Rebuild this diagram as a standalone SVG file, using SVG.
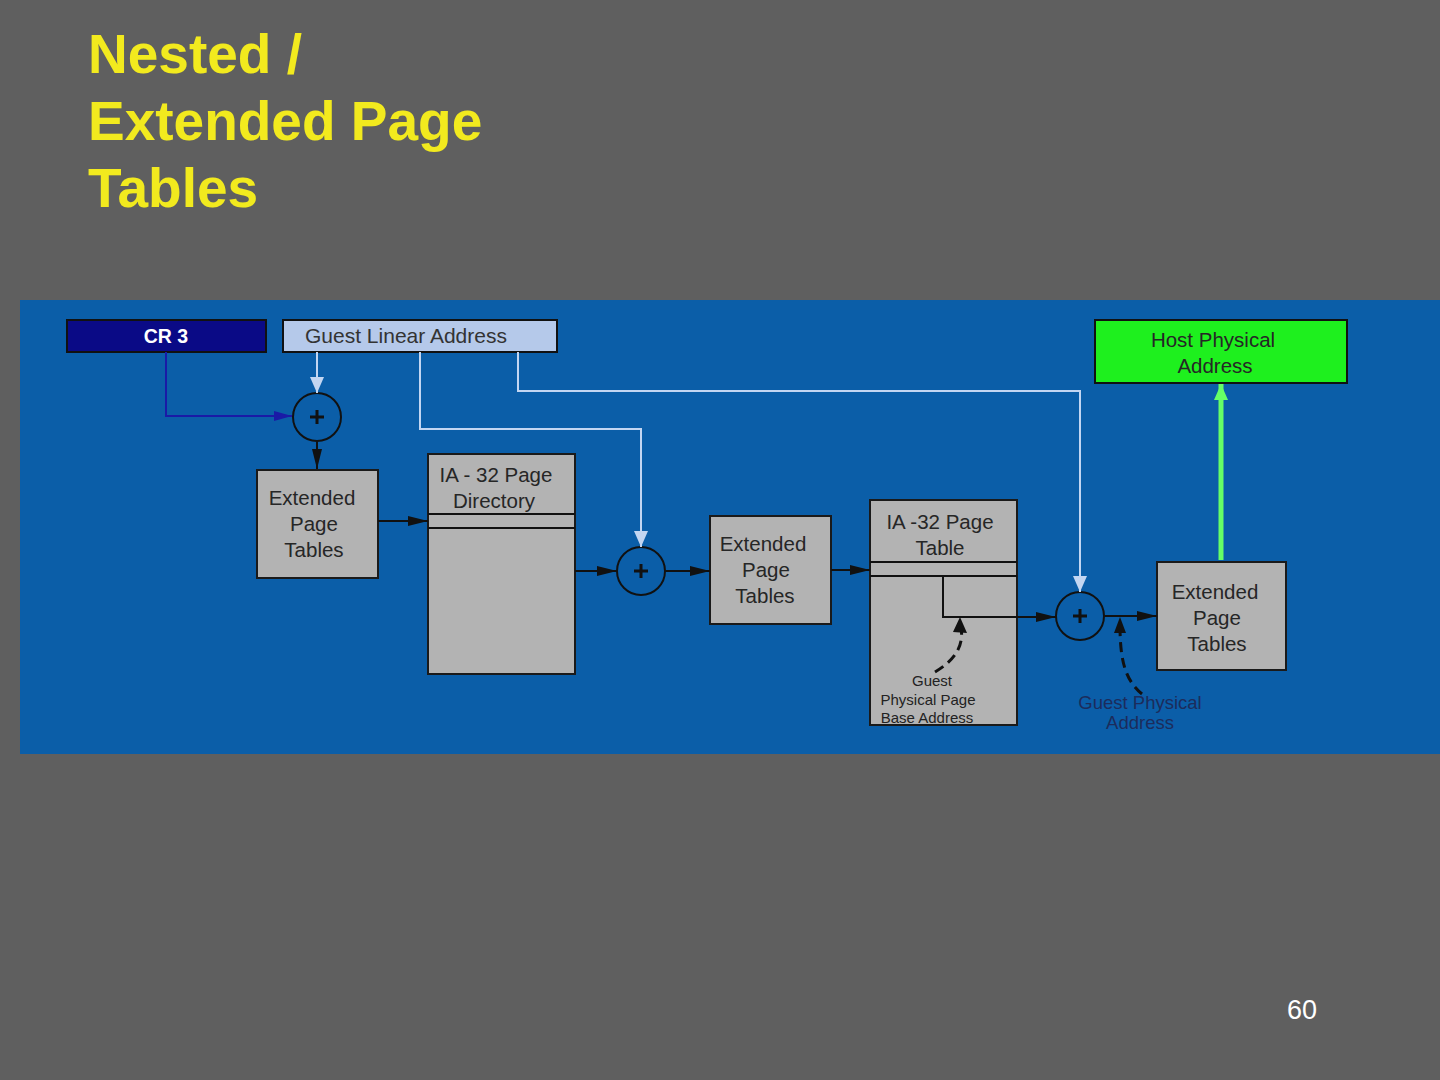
<svg xmlns="http://www.w3.org/2000/svg" width="1440" height="1080" viewBox="0 0 1440 1080">
<defs>
<style>
.t{font-family:"Liberation Sans",Arial,sans-serif}
.title{font-size:55px;font-weight:bold;fill:#f2ea1e}
.box{fill:#b3b3b3;stroke:#1a1a1a;stroke-width:2}
.bt{font-size:20.5px;fill:#262626;text-anchor:middle}
.circ{fill:#0b5ea8;stroke:#111;stroke-width:2}
.blk{stroke:#111;stroke-width:2;fill:none}
.lb{stroke:#c3d6f2;stroke-width:2;fill:none}
.sm{font-size:15px;fill:#222;text-anchor:middle}
</style>
<marker id="ab" markerWidth="20" markerHeight="12" refX="20" refY="6" markerUnits="userSpaceOnUse" orient="auto"><path d="M0,1L20,6L0,11z" fill="#111"/></marker>
<marker id="al" markerWidth="16" markerHeight="16" refX="16" refY="8" markerUnits="userSpaceOnUse" orient="auto"><path d="M0,1L16,8L0,15z" fill="#c3d6f2"/></marker>
<marker id="an" markerWidth="18" markerHeight="12" refX="18" refY="6" markerUnits="userSpaceOnUse" orient="auto"><path d="M0,1L18,6L0,11z" fill="#1a1aa6"/></marker>
<marker id="ag" markerWidth="16" markerHeight="16" refX="16" refY="8" markerUnits="userSpaceOnUse" orient="auto"><path d="M0,1L16,8L0,15z" fill="#66ff66"/></marker>
</defs>
<rect width="1440" height="1080" fill="#5f5f5f"/>
<g class="t title">
<text x="88" y="73">Nested /</text>
<text x="88" y="140">Extended Page</text>
<text x="88" y="207">Tables</text>
</g>
<text class="t" x="1287" y="1019" font-size="27" fill="#ffffff">60</text>
<rect x="20" y="300" width="1420" height="454" fill="#0b5ea8"/>

<g id="cr3">
<rect x="67" y="320" width="199" height="32" fill="#0a0a86" stroke="#111" stroke-width="2"/>
<text class="t" x="166" y="343" font-size="19.5" font-weight="bold" fill="#ffffff" text-anchor="middle">CR 3</text>
</g>
<g id="gla">
<rect x="283" y="320" width="274" height="32" fill="#b5c9ea" stroke="#111" stroke-width="2"/>
<text class="t" x="305" y="343" font-size="21" fill="#333">Guest Linear Address</text>
</g>
<g id="hpa">
<rect x="1095" y="320" width="252" height="63" fill="#1ef01e" stroke="#111" stroke-width="2"/>
<text class="t bt" x="1213" y="347" font-size="21">Host Physical</text>
<text class="t bt" x="1215" y="373" font-size="21">Address</text>
</g>
<g id="plus1">
<circle class="circ" cx="317" cy="417" r="24"/>
<path d="M310,417H324M317,410V424" stroke="#111" stroke-width="3"/>
</g>
<g id="ept1">
<rect class="box" x="257" y="470" width="121" height="108"/>
<text class="t bt" x="312" y="505">Extended</text>
<text class="t bt" x="314" y="531">Page</text>
<text class="t bt" x="314" y="557">Tables</text>
</g>
<g id="pd">
<rect class="box" x="428" y="454" width="147" height="220"/>
<path class="blk" d="M428,514H575M428,528H575"/>
<text class="t bt" x="496" y="482">IA - 32  Page</text>
<text class="t bt" x="494" y="508">Directory</text>
</g>
<g id="plus2">
<circle class="circ" cx="641" cy="571" r="24"/>
<path d="M634,571H648M641,564V578" stroke="#111" stroke-width="3"/>
</g>
<g id="ept2">
<rect class="box" x="710" y="516" width="121" height="108"/>
<text class="t bt" x="763" y="551">Extended</text>
<text class="t bt" x="766" y="577">Page</text>
<text class="t bt" x="765" y="603">Tables</text>
</g>
<g id="pt">
<rect class="box" x="870" y="500" width="147" height="225"/>
<path class="blk" d="M870,562H1017M870,576H1017"/>
<text class="t bt" x="940" y="529">IA -32  Page</text>
<text class="t bt" x="940" y="555">Table</text>
<text class="t sm" x="932" y="686">Guest</text>
<text class="t sm" x="928" y="705">Physical Page</text>
<text class="t sm" x="927" y="723">Base Address</text>
</g>
<g id="plus3">
<circle class="circ" cx="1080" cy="616" r="24"/>
<path d="M1073,616H1087M1080,609V623" stroke="#111" stroke-width="3"/>
</g>
<g id="gpa">
<text class="t" x="1140" y="709" font-size="18.5" fill="#1c2c5c" text-anchor="middle">Guest Physical</text>
<text class="t" x="1140" y="729" font-size="18.5" fill="#1c2c5c" text-anchor="middle">Address</text>
</g>
<g id="ept3">
<rect class="box" x="1157" y="562" width="129" height="108"/>
<text class="t bt" x="1215" y="599">Extended</text>
<text class="t bt" x="1217" y="625">Page</text>
<text class="t bt" x="1217" y="651">Tables</text>
</g>

<g id="connectors">
<path d="M166,352V416H292" stroke="#1a1aa6" stroke-width="2" fill="none" marker-end="url(#an)"/>
<path class="lb" d="M317,352V393" marker-end="url(#al)"/>
<path class="lb" d="M420,352V429H641V547" marker-end="url(#al)"/>
<path class="lb" d="M518,352V391H1080V592" marker-end="url(#al)"/>
<path class="blk" d="M317,441V469" marker-end="url(#ab)"/>
<path class="blk" d="M378,521H428" marker-end="url(#ab)"/>
<path class="blk" d="M575,571H617" marker-end="url(#ab)"/>
<path class="blk" d="M665,571H710" marker-end="url(#ab)"/>
<path class="blk" d="M831,570H870" marker-end="url(#ab)"/>
<path class="blk" d="M943,576V617H1056" marker-end="url(#ab)"/>
<path class="blk" d="M1104,616H1157" marker-end="url(#ab)"/>
<path d="M1221,560V384" stroke="#66ff66" stroke-width="5" fill="none" marker-end="url(#ag)"/>
<path d="M935,672C955,660 966,645 960,622" stroke="#111" stroke-width="3" stroke-dasharray="10,6" fill="none"/>
<path d="M953,632L960,617L967,633z" fill="#111"/>
<path d="M1142,694C1125,680 1120,660 1120,625" stroke="#111" stroke-width="3" stroke-dasharray="10,6" fill="none"/>
<path d="M1114,633L1120,617L1126,633z" fill="#111"/>
</g>
</svg>
